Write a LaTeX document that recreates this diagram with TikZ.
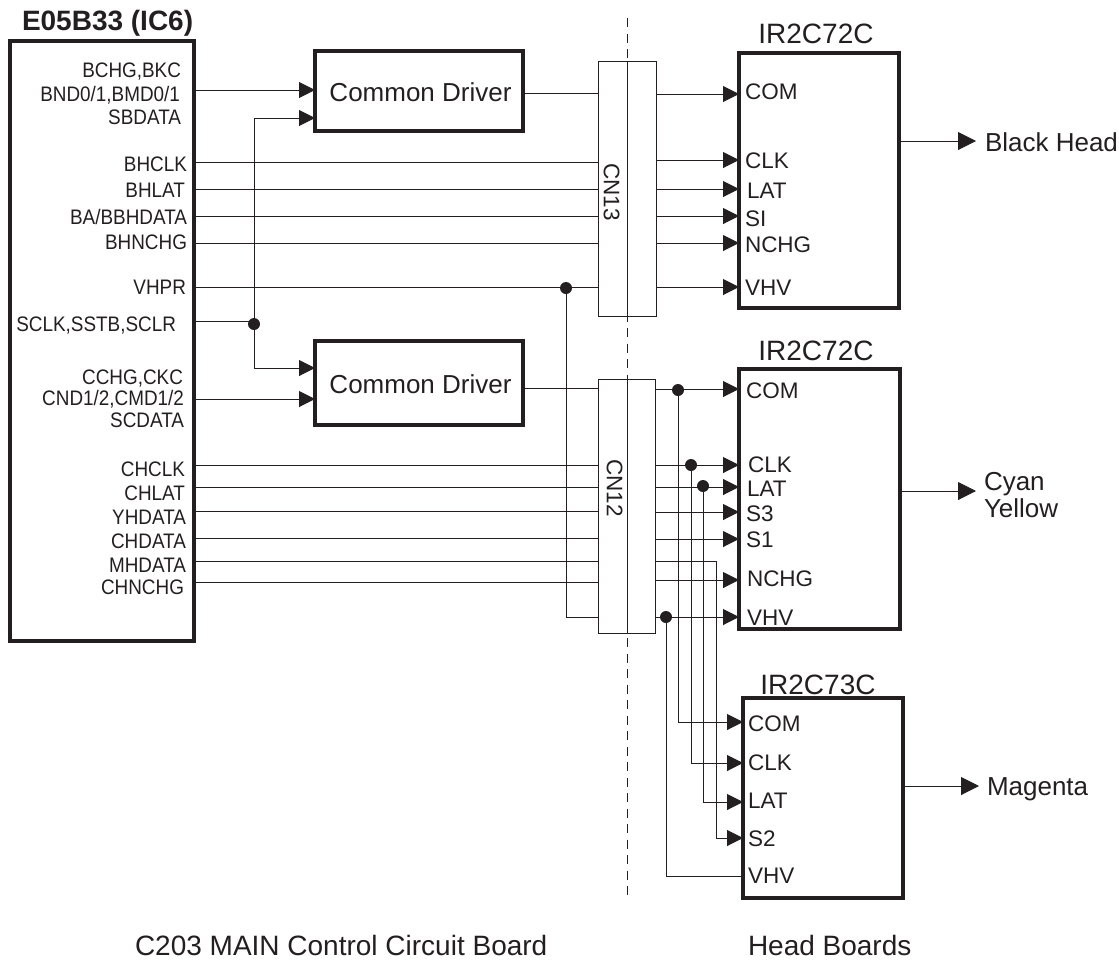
\documentclass[tikz,border=0pt]{standalone}
\usepackage{fontspec}
\setmainfont{Liberation Sans}
\newfontfamily\condfont[FakeStretch=0.9]{Liberation Sans}
\usetikzlibrary{arrows.meta,calc}
\definecolor{ink}{HTML}{231F20}
\tikzset{
  x=1pt,y=-1pt,
  every node/.style={text=ink,inner sep=0pt,outer sep=0pt},
  block/.style={draw=ink,line width=3.6pt,rectangle,anchor=north west},
  conn/.style={draw=ink,line width=0.9pt,fill=white,rectangle,anchor=north west},
  wire/.style={draw=ink,line width=1pt},
  arrowwire/.style={wire,-{Triangle[length=16pt,width=16pt]}},
  outwire/.style={wire,-{Triangle[length=18pt,width=18pt]}},
  dot/.style={circle,fill=ink,minimum size=12pt},
  sig/.style={font=\condfont\fontsize{21}{21}\selectfont,anchor=east,text height=15pt,text depth=0pt},
  pin/.style={font=\fontsize{22.5}{22.5}\selectfont,anchor=west,text height=16.1pt,text depth=0pt},
  big/.style={font=\fontsize{26}{26}\selectfont,text height=18.6pt,text depth=0pt},
  chip/.style={font=\fontsize{28}{28}\selectfont,text height=20pt,text depth=0pt},
}
\begin{document}
\begin{tikzpicture}
\useasboundingbox (0,0) rectangle (1119,959);
% dashed divider
\coordinate (divtop) at (627,18);
\coordinate (divbot) at (627,900);
\draw[wire,dash pattern=on 9pt off 6.5pt] (divtop) -- (divbot);
% blocks
\node[block,minimum width=184pt,minimum height=600pt] (ic) at (10,41) {};
\node[block,minimum width=208pt,minimum height=80pt] (drva) at (315,51) {};
\node[block,minimum width=208pt,minimum height=84pt] (drvb) at (315,341) {};
\node[conn,minimum width=58pt,minimum height=255pt] (cnb) at (598,61) {};
\node[conn,minimum width=57pt,minimum height=254pt] (cnc) at (598,379) {};
\node[block,minimum width=160pt,minimum height=255pt] (ira) at (739,53) {};
\node[block,minimum width=161pt,minimum height=260pt] (irb) at (739,369) {};
\node[block,minimum width=160pt,minimum height=200pt] (irc) at (743,698) {};
\draw[wire] (cnb.north -| divtop) -- (cnb.south -| divtop);
\draw[wire] (cnc.north -| divtop) -- (cnc.south -| divtop);
% block texts
\node[big] (drvat) at (420.5,92) {Common Driver};
\node[big] (drvbt) at (420.5,384) {Common Driver};
\node[font=\fontsize{28}{28}\selectfont\bfseries,text height=20pt,text depth=0pt,anchor=west] (ictitle) at (22,20) {E05B33 (IC6)};
\node[chip] (iratitle) at (816,33) {IR2C72C};
\node[chip] (irbtitle) at (816,350) {IR2C72C};
\node[chip] (irctitle) at (818,684) {IR2C73C};
\node[pin,rotate=-90,anchor=center] (cnbt) at (612,192) {CN13};
\node[pin,rotate=-90,anchor=center] (cnct) at (615,488) {CN12};
% IC signals
\node[sig] (s1) at (181,70) {BCHG,BKC};
\node[sig] (s2) at (180,94) {BND0/1,BMD0/1};
\node[sig] (s3) at (181,117) {SBDATA};
\node[sig] (s4) at (187,164) {BHCLK};
\node[sig] (s5) at (185,190) {BHLAT};
\node[sig] (s6) at (187,217) {BA/BBHDATA};
\node[sig] (s7) at (187,242) {BHNCHG};
\node[sig] (s8) at (186,287) {VHPR};
\node[sig] (s9) at (176,324) {SCLK,SSTB,SCLR};
\node[sig] (s10) at (183,377) {CCHG,CKC};
\node[sig] (s11) at (184,398) {CND1/2,CMD1/2};
\node[sig] (s12) at (184,420) {SCDATA};
\node[sig] (s13) at (185,469) {CHCLK};
\node[sig] (s14) at (185,493) {CHLAT};
\node[sig] (s15) at (186,517) {YHDATA};
\node[sig] (s16) at (186,541) {CHDATA};
\node[sig] (s17) at (186,565) {MHDATA};
\node[sig] (s18) at (184,587) {CHNCHG};
% pin labels
\node[pin] (pa1) at (745,91) {COM};
\node[pin] (pa2) at (745,160) {CLK};
\node[pin] (pa3) at (747,190) {LAT};
\node[pin] (pa4) at (745,218) {SI};
\node[pin] (pa5) at (745,244) {NCHG};
\node[pin] (pa6) at (745,287) {VHV};
\node[pin] (pb1) at (746,390) {COM};
\node[pin] (pb2) at (748,464) {CLK};
\node[pin] (pb3) at (747,488) {LAT};
\node[pin] (pb4) at (746,513) {S3};
\node[pin] (pb5) at (746,539) {S1};
\node[pin] (pb6) at (747,578) {NCHG};
\node[pin] (pb7) at (747,617) {VHV};
\node[pin] (pc1) at (748,723) {COM};
\node[pin] (pc2) at (748,762) {CLK};
\node[pin] (pc3) at (748,800) {LAT};
\node[pin] (pc4) at (748,838) {S2};
\node[pin] (pc5) at (748,875) {VHV};
% outputs
\node[big,anchor=west] (outa) at (985,142) {Black Head};
\node[big,anchor=west] (outb) at (984,481) {Cyan};
\node[big,anchor=west] (outc) at (984,508) {Yellow};
\node[big,anchor=west] (outd) at (987,786) {Magenta};
\node[chip,anchor=west] (capa) at (135,945) {C203 MAIN Control Circuit Board};
\node[chip,anchor=west] (capb) at (748,945) {Head Boards};
% wires IC to common drivers
\draw[arrowwire] (ic.east |- 0,90) -- (drva.west |- 0,90);
\draw[arrowwire] (ic.east |- 0,399) -- (drvb.west |- 0,399);
\node[dot] (ja) at (254,324) {};
\draw[wire] (ic.east |- 0,321) -- (ja.center |- 0,321);
\draw[arrowwire] (ja.center) -- (ja.center |- 0,118) -- (drva.west |- 0,118);
\draw[arrowwire] (ja.center) -- (ja.center |- 0,368) -- (drvb.west |- 0,368);
% wires IC to connectors
\foreach \yy in {162,189,216,243,287} \draw[wire] (ic.east |- 0,\yy) -- (cnb.west |- 0,\yy);
\foreach \yy in {465,487,511,538,561,582} \draw[wire] (ic.east |- 0,\yy) -- (cnc.west |- 0,\yy);
\draw[wire] (drva.east |- 0,93) -- (cnb.west |- 0,93);
\draw[wire] (drvb.east |- 0,388) -- (cnc.west |- 0,388);
\node[dot] (jb) at (566,288) {};
\draw[wire] (jb.center) -- (jb.center |- 0,617) -- (cnc.west |- 0,617);
% connector 13 to head
\foreach \yy in {94,160,189,216,243,287} \draw[arrowwire] (cnb.east |- 0,\yy) -- (ira.west |- 0,\yy);
% connector 12 to heads
\foreach \yy in {389,465,487,512,539,580,617} \draw[arrowwire] (cnc.east |- 0,\yy) -- (irb.west |- 0,\yy);
\node[dot] (jc) at (678,390) {};
\node[dot] (jd) at (691,465) {};
\node[dot] (je) at (703,486) {};
\node[dot] (jf) at (666,617) {};
\draw[arrowwire] (jc.center) -- (jc.center |- 0,722) -- (irc.west |- 0,722);
\draw[arrowwire] (jd.center) -- (jd.center |- 0,763) -- (irc.west |- 0,763);
\draw[arrowwire] (je.center) -- (je.center |- 0,802) -- (irc.west |- 0,802);
\coordinate (mh) at (716,561);
\draw[wire] (cnc.east |- mh) -- (mh);
\draw[arrowwire] (mh) -- (mh |- 0,838) -- (irc.west |- 0,838);
\draw[wire] (jf.center) -- (jf.center |- 0,876) -- (irc.west |- 0,876);
% outputs
\coordinate (ea) at (976,141);
\coordinate (eb) at (976,491);
\coordinate (ec) at (979,786);
\draw[outwire] (ira.east |- ea) -- (ea);
\draw[outwire] (irb.east |- eb) -- (eb);
\draw[outwire] (irc.east |- ec) -- (ec);
\end{tikzpicture}
\end{document}
